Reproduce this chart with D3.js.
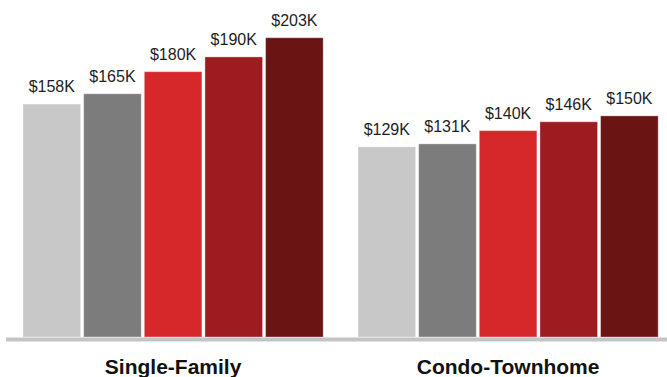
<!DOCTYPE html>
<html>
<head>
<meta charset="utf-8">
<script src="https://cdn.jsdelivr.net/npm/d3@7"></script>
<style>
  html, body { margin: 0; padding: 0; background: #fff; }
  svg { display: block; }
  text { font-family: "Liberation Sans", Arial, Helvetica, sans-serif; }
</style>
</head>
<body>
<svg id="chart" width="667" height="377"></svg>
<script>
// Median price by property type, five consecutive periods (thousands of dollars)
const categories = ["Single-Family", "Condo-Townhome"];
const seriesKeys = ["p1", "p2", "p3", "p4", "p5"];
const seriesColors = ["#c8c8c8", "#7c7c7c", "#d6282b", "#9e1c20", "#6a1414"];
const singleFamily = [158, 165, 180, 190, 203];
const condoTownhome = [129, 131, 140, 146, 150];
const valuesByCategory = [singleFamily, condoTownhome];

const svg = d3.select("#chart");
const W = 667, H = 377;
const baseY = 337;

const x0 = d3.scaleBand()
  .domain(categories)
  .range([5.6, 675.6])
  .paddingInner(0.104)
  .paddingOuter(0.052);

const x1 = d3.scaleBand()
  .domain(seriesKeys)
  .range([0, x0.bandwidth()])
  .paddingInner(0.05)
  .paddingOuter(0);

const y = d3.scaleLinear().domain([0, 228.6]).range([baseY, 0]);
const color = d3.scaleOrdinal().domain(seriesKeys).range(seriesColors);

const groups = svg.append("g")
  .selectAll("g")
  .data(categories.map((c, i) => ({ category: c, values: valuesByCategory[i] })))
  .join("g")
  .attr("transform", d => `translate(${x0(d.category)},0)`);

const cells = groups.selectAll("g.cell")
  .data(d => d.values.map((v, i) => ({ key: seriesKeys[i], value: v })))
  .join("g")
  .attr("class", "cell");

cells.append("rect")
  .attr("x", d => x1(d.key))
  .attr("y", d => y(d.value))
  .attr("width", x1.bandwidth())
  .attr("height", d => baseY - y(d.value))
  .attr("fill", d => color(d.key))
  .attr("stroke", "rgba(255,255,255,0.35)")
  .attr("stroke-width", 1);

cells.append("text")
  .attr("x", d => x1(d.key) + x1.bandwidth() / 2)
  .attr("y", d => y(d.value) - 12)
  .attr("text-anchor", "middle")
  .attr("font-size", 16)
  .attr("fill", "#1e1e1e")
  .text(d => `$${d.value}K`);

// Category axis along the baseline
const axis = svg.append("g")
  .attr("transform", `translate(0,${baseY + 2})`)
  .call(d3.axisBottom(x0).tickSize(0).tickSizeOuter(0));

axis.select(".domain")
  .attr("stroke", "#c4c4c4")
  .attr("stroke-width", 4);

axis.selectAll(".tick text")
  .attr("y", 34.5)
  .attr("dy", 0)
  .attr("font-size", 21)
  .attr("font-weight", "bold")
  .attr("font-family", "'Liberation Sans', Arial, Helvetica, sans-serif")
  .attr("fill", "#111");
</script>
</body>
</html>
